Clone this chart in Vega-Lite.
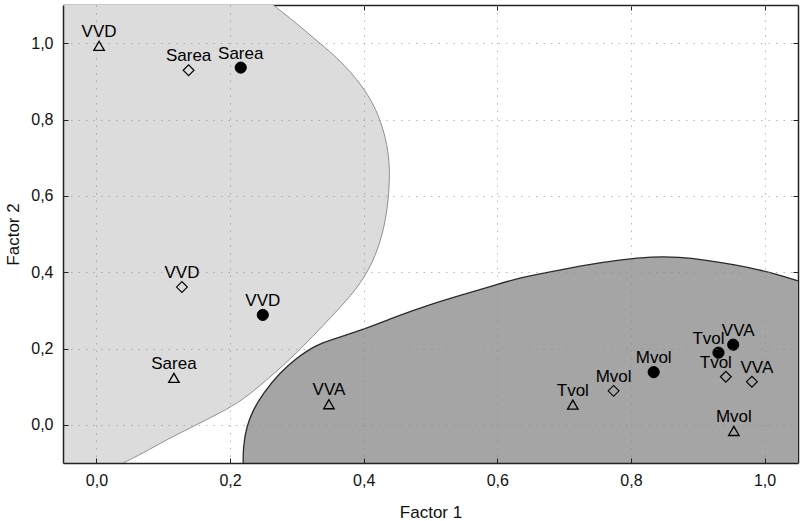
{
  "$schema": "https://vega.github.io/schema/vega-lite/v6.json",
  "width": 735,
  "height": 458,
  "padding": {"left": 63, "top": 5, "right": 2, "bottom": 58},
  "autosize": {"type": "none"},
  "background": "white",
  "config": {
    "view": {"stroke": null},
    "font": "Liberation Sans",
    "axis": {
      "domainColor": "#222",
      "domainWidth": 1.5,
      "tickColor": "#222",
      "tickWidth": 1,
      "labelFont": "Liberation Sans",
      "labelFontSize": 16,
      "labelColor": "#111",
      "titleFont": "Liberation Sans",
      "titleFontSize": 17,
      "titleFontWeight": "normal",
      "titleColor": "#111"
    }
  },
  "datasets": {
    "pts": [
      {"f1": 0.216, "f2": 0.936, "label": "Sarea", "grp": "circle"},
      {"f1": 0.249, "f2": 0.288, "label": "VVD", "grp": "circle"},
      {"f1": 0.834, "f2": 0.138, "label": "Mvol", "grp": "circle"},
      {"f1": 0.931, "f2": 0.189, "label": "Tvol", "grp": "circle"},
      {"f1": 0.953, "f2": 0.210, "label": "VVA", "grp": "circle"},
      {"f1": 0.138, "f2": 0.929, "label": "Sarea", "grp": "diamond"},
      {"f1": 0.128, "f2": 0.361, "label": "VVD", "grp": "diamond"},
      {"f1": 0.774, "f2": 0.089, "label": "Mvol", "grp": "diamond"},
      {"f1": 0.942, "f2": 0.126, "label": "Tvol", "grp": "diamond"},
      {"f1": 0.981, "f2": 0.113, "label": "VVA", "grp": "diamond"},
      {"f1": 0.004, "f2": 0.993, "label": "VVD", "grp": "triangle"},
      {"f1": 0.116, "f2": 0.123, "label": "Sarea", "grp": "triangle"},
      {"f1": 0.348, "f2": 0.054, "label": "VVA", "grp": "triangle"},
      {"f1": 0.713, "f2": 0.053, "label": "Tvol", "grp": "triangle"},
      {"f1": 0.954, "f2": -0.016, "label": "Mvol", "grp": "triangle"}
    ],
    "light": [
      {"i": 1, "f1": 0.264, "f2": 1.101},
      {"i": 2, "f1": 0.299, "f2": 1.053},
      {"i": 3, "f1": 0.334, "f2": 1.0},
      {"i": 4, "f1": 0.364, "f2": 0.957},
      {"i": 5, "f1": 0.399, "f2": 0.887},
      {"i": 6, "f1": 0.419, "f2": 0.826},
      {"i": 7, "f1": 0.431, "f2": 0.766},
      {"i": 8, "f1": 0.438, "f2": 0.703},
      {"i": 9, "f1": 0.439, "f2": 0.642},
      {"i": 10, "f1": 0.436, "f2": 0.572},
      {"i": 11, "f1": 0.429, "f2": 0.503},
      {"i": 12, "f1": 0.414, "f2": 0.424},
      {"i": 13, "f1": 0.389, "f2": 0.354},
      {"i": 14, "f1": 0.357, "f2": 0.293},
      {"i": 15, "f1": 0.324, "f2": 0.232},
      {"i": 16, "f1": 0.289, "f2": 0.17},
      {"i": 17, "f1": 0.255, "f2": 0.118},
      {"i": 18, "f1": 0.22, "f2": 0.066},
      {"i": 19, "f1": 0.185, "f2": 0.031},
      {"i": 20, "f1": 0.145, "f2": -0.004},
      {"i": 21, "f1": 0.105, "f2": -0.039},
      {"i": 22, "f1": 0.07, "f2": -0.074},
      {"i": 23, "f1": 0.04, "f2": -0.1}
    ],
    "dark": [
      {"i": 1, "f1": 0.2196, "f2": -0.1},
      {"i": 2, "f1": 0.2197, "f2": -0.057},
      {"i": 3, "f1": 0.2247, "f2": -0.004},
      {"i": 4, "f1": 0.2345, "f2": 0.039},
      {"i": 5, "f1": 0.2495, "f2": 0.083},
      {"i": 6, "f1": 0.2744, "f2": 0.136},
      {"i": 7, "f1": 0.2994, "f2": 0.175},
      {"i": 8, "f1": 0.329, "f2": 0.21},
      {"i": 9, "f1": 0.359, "f2": 0.227},
      {"i": 10, "f1": 0.399, "f2": 0.249},
      {"i": 11, "f1": 0.449, "f2": 0.284},
      {"i": 12, "f1": 0.499, "f2": 0.315},
      {"i": 13, "f1": 0.548, "f2": 0.341},
      {"i": 14, "f1": 0.598, "f2": 0.367},
      {"i": 15, "f1": 0.633, "f2": 0.385},
      {"i": 16, "f1": 0.683, "f2": 0.402},
      {"i": 17, "f1": 0.733, "f2": 0.419},
      {"i": 18, "f1": 0.783, "f2": 0.432},
      {"i": 19, "f1": 0.832, "f2": 0.441},
      {"i": 20, "f1": 0.872, "f2": 0.44},
      {"i": 21, "f1": 0.912, "f2": 0.432},
      {"i": 22, "f1": 0.957, "f2": 0.419},
      {"i": 23, "f1": 0.992, "f2": 0.406},
      {"i": 24, "f1": 1.022, "f2": 0.393},
      {"i": 25, "f1": 1.05, "f2": 0.377}
    ]
  },
  "resolve": {"axis": {"x": "independent", "y": "independent"}},
  "layer": [
    {
      "data": {"name": "light"},
      "mark": {"type": "area", "orient": "horizontal", "color": "#dcdcdc", "clip": true, "interpolate": "basis"},
      "encoding": {
        "y": {"field": "f2", "type": "quantitative", "scale": {"domain": [-0.1, 1.1], "nice": false, "zero": false},
          "axis": {"orient": "left", "title": "Factor 2", "values": [0, 0.2, 0.4, 0.6, 0.8, 1.0],
            "labelExpr": "replace(format(datum.value, '.1f'), '.', ',')",
            "tickSize": -5, "labelPadding": 15, "grid": true, "gridColor": "#888", "gridDash": [1.5, 6], "gridOpacity": 0.6,
            "zindex": 1, "titleX": -45, "titleBaseline": "alphabetic"}},
        "x": {"field": "f1", "type": "quantitative", "scale": {"domain": [-0.05, 1.05], "nice": false, "zero": false},
          "axis": {"orient": "bottom", "title": "Factor 1", "values": [0, 0.2, 0.4, 0.6, 0.8, 1.0],
            "labelExpr": "replace(format(datum.value, '.1f'), '.', ',')",
            "tickSize": -5, "labelPadding": 14, "grid": true, "gridColor": "#888", "gridDash": [1.5, 6], "gridOpacity": 0.6,
            "zindex": 1, "titleY": 54, "titleBaseline": "alphabetic"}},
        "x2": {"datum": -0.05}
      }
    },
    {
      "data": {"name": "light"},
      "mark": {"type": "line", "color": "#8f8f8f", "strokeWidth": 1, "clip": true, "interpolate": "basis"},
      "encoding": {
        "x": {"field": "f1", "type": "quantitative", "scale": {"domain": [-0.05, 1.05], "nice": false, "zero": false}, "axis": null},
        "y": {"field": "f2", "type": "quantitative", "scale": {"domain": [-0.1, 1.1], "nice": false, "zero": false}, "axis": null},
        "order": {"field": "i", "type": "quantitative"}
      }
    },
    {
      "data": {"name": "dark"},
      "mark": {"type": "area", "color": "#a5a5a5", "clip": true, "interpolate": "basis"},
      "encoding": {
        "x": {"field": "f1", "type": "quantitative", "scale": {"domain": [-0.05, 1.05], "nice": false, "zero": false}, "axis": null},
        "y": {"field": "f2", "type": "quantitative", "scale": {"domain": [-0.1, 1.1], "nice": false, "zero": false}, "axis": null},
        "y2": {"datum": -0.1}
      }
    },
    {
      "data": {"name": "dark"},
      "mark": {"type": "line", "color": "#2a2a2a", "strokeWidth": 1.3, "clip": true, "interpolate": "basis"},
      "encoding": {
        "x": {"field": "f1", "type": "quantitative", "scale": {"domain": [-0.05, 1.05], "nice": false, "zero": false}, "axis": null},
        "y": {"field": "f2", "type": "quantitative", "scale": {"domain": [-0.1, 1.1], "nice": false, "zero": false}, "axis": null},
        "order": {"field": "i", "type": "quantitative"}
      }
    },
    {
      "data": {"name": "pts"},
      "mark": {"type": "point", "filled": true, "stroke": "#000", "opacity": 1},
      "encoding": {
        "x": {"field": "f1", "type": "quantitative", "scale": {"domain": [-0.05, 1.05], "nice": false, "zero": false},
          "axis": {"orient": "top", "title": null, "labels": false, "values": [0, 0.2, 0.4, 0.6, 0.8, 1.0], "tickSize": -5, "grid": false}},
        "y": {"field": "f2", "type": "quantitative", "scale": {"domain": [-0.1, 1.1], "nice": false, "zero": false},
          "axis": {"orient": "right", "title": null, "labels": false, "values": [0, 0.2, 0.4, 0.6, 0.8, 1.0], "tickSize": -5, "grid": false}},
        "shape": {"field": "grp", "type": "nominal", "scale": {"domain": ["circle", "diamond", "triangle"], "range": ["circle", "diamond", "triangle-up"]}, "legend": null},
        "fill": {"field": "grp", "type": "nominal", "scale": {"domain": ["circle", "diamond", "triangle"], "range": ["#000000", "transparent", "transparent"]}, "legend": null},
        "size": {"field": "grp", "type": "nominal", "scale": {"domain": ["circle", "diamond", "triangle"], "range": [125, 110, 110]}, "legend": null},
        "strokeWidth": {"field": "grp", "type": "nominal", "scale": {"domain": ["circle", "diamond", "triangle"], "range": [1, 1.3, 2]}, "legend": null}
      }
    },
    {
      "data": {"name": "pts"},
      "transform": [{"filter": "!(datum.f1 > 0.9 && (datum.label == 'Tvol' || datum.label == 'VVA'))"}],
      "mark": {"type": "text", "dy": -9, "align": "center", "baseline": "alphabetic", "fontSize": 17, "font": "Liberation Sans", "color": "#000"},
      "encoding": {
        "x": {"field": "f1", "type": "quantitative", "scale": {"domain": [-0.05, 1.05], "nice": false, "zero": false}, "axis": null},
        "y": {"field": "f2", "type": "quantitative", "scale": {"domain": [-0.1, 1.1], "nice": false, "zero": false}, "axis": null},
        "text": {"field": "label"}
      }
    },
    {
      "data": {"name": "pts"},
      "transform": [{"filter": "datum.f1 > 0.9 && datum.label == 'Tvol'"}],
      "mark": {"type": "text", "dy": -9, "dx": -10, "align": "center", "baseline": "alphabetic", "fontSize": 17, "font": "Liberation Sans", "color": "#000"},
      "encoding": {
        "x": {"field": "f1", "type": "quantitative", "scale": {"domain": [-0.05, 1.05], "nice": false, "zero": false}, "axis": null},
        "y": {"field": "f2", "type": "quantitative", "scale": {"domain": [-0.1, 1.1], "nice": false, "zero": false}, "axis": null},
        "text": {"field": "label"}
      }
    },
    {
      "data": {"name": "pts"},
      "transform": [{"filter": "datum.f1 > 0.9 && datum.label == 'VVA'"}],
      "mark": {"type": "text", "dy": -9, "dx": 5, "align": "center", "baseline": "alphabetic", "fontSize": 17, "font": "Liberation Sans", "color": "#000"},
      "encoding": {
        "x": {"field": "f1", "type": "quantitative", "scale": {"domain": [-0.05, 1.05], "nice": false, "zero": false}, "axis": null},
        "y": {"field": "f2", "type": "quantitative", "scale": {"domain": [-0.1, 1.1], "nice": false, "zero": false}, "axis": null},
        "text": {"field": "label"}
      }
    }
  ]
}
